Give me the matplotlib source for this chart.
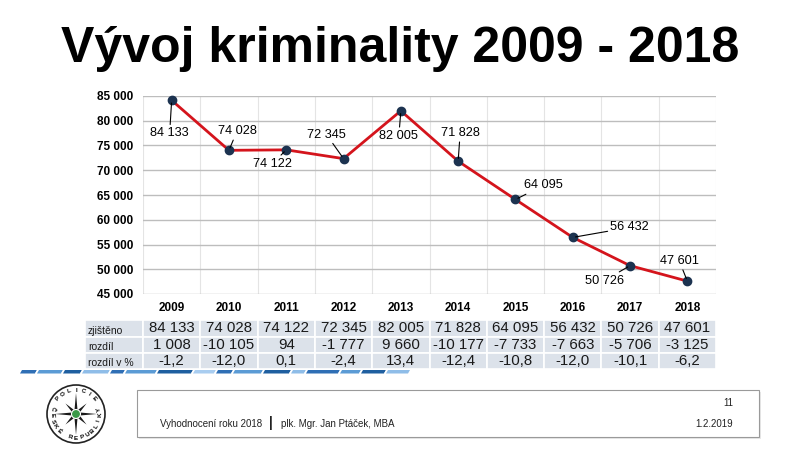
import numpy as np
import matplotlib
matplotlib.use("Agg")
import matplotlib.pyplot as plt
import matplotlib.transforms as mtransforms
from matplotlib.patches import Rectangle, Circle, Polygon

plt.rcParams['font.family'] = ['Liberation Sans', 'DejaVu Sans']

# data
years = ['2009', '2010', '2011', '2012', '2013', '2014', '2015', '2016', '2017', '2018']
zjisteno = [84133, 74028, 74122, 72345, 82005, 71828, 64095, 56432, 50726, 47601]
rozdil = [1008, -10105, 94, -1777, 9660, -10177, -7733, -7663, -5706, -3125]
rozdil_pct = [-1.2, -12.0, 0.1, -2.4, 13.4, -12.4, -10.8, -12.0, -10.1, -6.2]
row_names = ['zjištěno', 'rozdíl', 'rozdíl v %']
y_ticks = [45000, 50000, 55000, 60000, 65000, 70000, 75000, 80000, 85000]

# label offsets in pixels (dx right, dy down) from each point
label_off = [(-2, 33), (8, -19), (-14, 14), (-17, -24), (-2, 25),
             (2, -28), (28, -14), (57, -10), (-26, 15), (-8, -20)]


def fmt(v):
    return f"{v:,}".replace(",", " ")


W, H = 800, 450
fig = plt.figure(figsize=(8, 4.5), dpi=100)

# full-figure overlay in pixel coords for slide decorations
bg = fig.add_axes([0, 0, 1, 1])
bg.set_xlim(0, W)
bg.set_ylim(H, 0)
bg.axis('off')

# title
bg.text(400, 62, 'Vývoj kriminality 2009 - 2018', ha='center', va='baseline',
        fontsize=36, fontweight='bold', color='black')

# chart
L, R, T, B = 143, 716, 96, 294
ax = fig.add_axes([L / W, 1 - B / H, (R - L) / W, (B - T) / H])
x = np.arange(len(years))
ax.set_xlim(-0.5, len(years) - 0.5)
ax.set_ylim(45000, 85000)
ax.set_yticks(y_ticks)
ax.set_yticklabels([fmt(v) for v in y_ticks], fontsize=8.5, fontweight='bold')
ax.set_xticks(x)
ax.set_xticklabels(years, fontsize=8.5, fontweight='bold')
ax.set_xticks(np.arange(-0.5, len(years)), minor=True)
ax.tick_params(axis='both', length=0, which='both')
ax.tick_params(axis='y', pad=7)
ax.tick_params(axis='x', pad=6)
ax.grid(axis='y', which='major', color='#bdbdbd', lw=1)
ax.grid(axis='x', which='minor', color='#e4e4e4', lw=0.8)
for s in ax.spines.values():
    s.set_visible(False)
ax.set_axisbelow(True)

ax.plot(x, zjisteno, color='#d4141c', lw=2, zorder=3)
ax.plot(x, zjisteno, 'o', color='#1c3350', ms=6, zorder=4, clip_on=False)

for i, v in enumerate(zjisteno):
    dx, dy = label_off[i]
    ax.annotate(fmt(v), xy=(i, v), xytext=(dx * 0.72, -dy * 0.72),
                textcoords='offset points', ha='center', va='center', fontsize=9.2,
                arrowprops=dict(arrowstyle='-', color='black', lw=0.8,
                                shrinkA=0, shrinkB=2), zorder=5)

# table below the chart
trans = mtransforms.blended_transform_factory(ax.transData, bg.transData)
row_y = [(320, 337), (337, 353), (353, 369)]
rows = [[fmt(v) for v in zjisteno],
        [fmt(v) for v in rozdil],
        [f"{v:.1f}".replace('.', ',') for v in rozdil_pct]]
cell_bg = '#dce2ea'
for r, (y0, y1) in enumerate(row_y):
    bg.add_patch(Rectangle((85, y0), L - 85, y1 - y0, facecolor=cell_bg,
                           edgecolor='white', lw=1.2))
    bg.text(88, (y0 + y1) / 2 + 2, row_names[r], ha='left', va='center',
            color='#1a1a1a', fontsize=7.5)
    for i in x:
        bg.add_patch(Rectangle((i - 0.5, y0), 1, y1 - y0, transform=trans,
                               facecolor=cell_bg, edgecolor='white', lw=1.2))
        bg.text(i, (y0 + y1) / 2, rows[r][i], transform=trans, ha='center',
                va='center', color='#1a1a1a', fontsize=10.8)

# blue dashed stripe
stripe_w = [15, 2, 24, 2, 17, 2, 26, 2, 13, 2, 30, 2, 34, 2, 21, 2, 15, 2, 28, 2,
            26, 2, 13, 2, 32, 2, 19, 2, 23, 2, 22]
stripe_c = ['#2f6fb5', '#ffffff', '#5b9bd5', '#ffffff', '#1f5fa0', '#ffffff',
            '#8fbde8', '#ffffff', '#2f6fb5', '#ffffff', '#5b9bd5', '#ffffff',
            '#1f5fa0', '#ffffff', '#a9cdf0', '#ffffff', '#2f6fb5', '#ffffff',
            '#5b9bd5', '#ffffff', '#1f5fa0', '#ffffff', '#8fbde8', '#ffffff',
            '#2f6fb5', '#ffffff', '#5b9bd5', '#ffffff', '#1f5fa0', '#ffffff',
            '#8fbde8']
sx = 20
for w, c in zip(stripe_w, stripe_c):
    bg.add_patch(Polygon([(sx + 2, 370), (sx + w + 2, 370), (sx + w, 373.5), (sx, 373.5)],
                         closed=True, facecolor=c, edgecolor='none'))
    sx += w

# footer box
bg.add_patch(Rectangle((139, 392), 622, 47, facecolor='#e8e8e8', edgecolor='none'))
bg.add_patch(Rectangle((137, 390), 622, 47, facecolor='white', edgecolor='#9a9a9a', lw=0.8))
bg.text(160, 424, 'Vyhodnocení roku 2018', ha='left', va='center', fontsize=7, color='#222222')
bg.text(271, 423, '|', ha='center', va='center', fontsize=10, fontweight='bold', color='#222222')
bg.text(281, 424, 'plk. Mgr. Jan Ptáček, MBA', ha='left', va='center', fontsize=7, color='#222222')
bg.text(733, 403, '11', ha='right', va='center', fontsize=7, color='#222222')
bg.text(733, 424, '1.2.2019', ha='right', va='center', fontsize=7, color='#222222')

# police badge
cx, cy, rad = 76, 414, 29
bg.add_patch(Circle((cx, cy), rad, facecolor='white', edgecolor='#222222', lw=1.2))
ang = np.linspace(0, 2 * np.pi, 17)[:-1] + np.pi / 2
rr = np.where(np.arange(16) % 2 == 0, np.where(np.arange(16) % 4 == 0, 21, 15), 4)
pts = np.column_stack([cx + rr * np.cos(ang), cy - rr * np.sin(ang)])
bg.add_patch(Polygon(pts, closed=True, facecolor='#1a1a1a', edgecolor='none'))
bg.add_patch(Circle((cx, cy), 4.5, facecolor='#3a9a48', edgecolor='white', lw=0.8))
top = 'POLICIE'
for k, ch in enumerate(top):
    a = np.deg2rad(140 - k * 100 / (len(top) - 1))
    bg.text(cx + (rad - 5) * np.cos(a), cy - (rad - 5) * np.sin(a), ch,
            rotation=np.rad2deg(a) - 90, ha='center', va='center',
            fontsize=4.5, fontweight='bold')
bottom = 'ČESKÉ REPUBLIKY'
for k, ch in enumerate(bottom):
    a = np.deg2rad(168 + k * 204 / (len(bottom) - 1))
    bg.text(cx + (rad - 5) * np.cos(a), cy - (rad - 5) * np.sin(a), ch,
            rotation=np.rad2deg(a) + 90, ha='center', va='center',
            fontsize=4.5, fontweight='bold')

fig.savefig('out.png', dpi=100)
